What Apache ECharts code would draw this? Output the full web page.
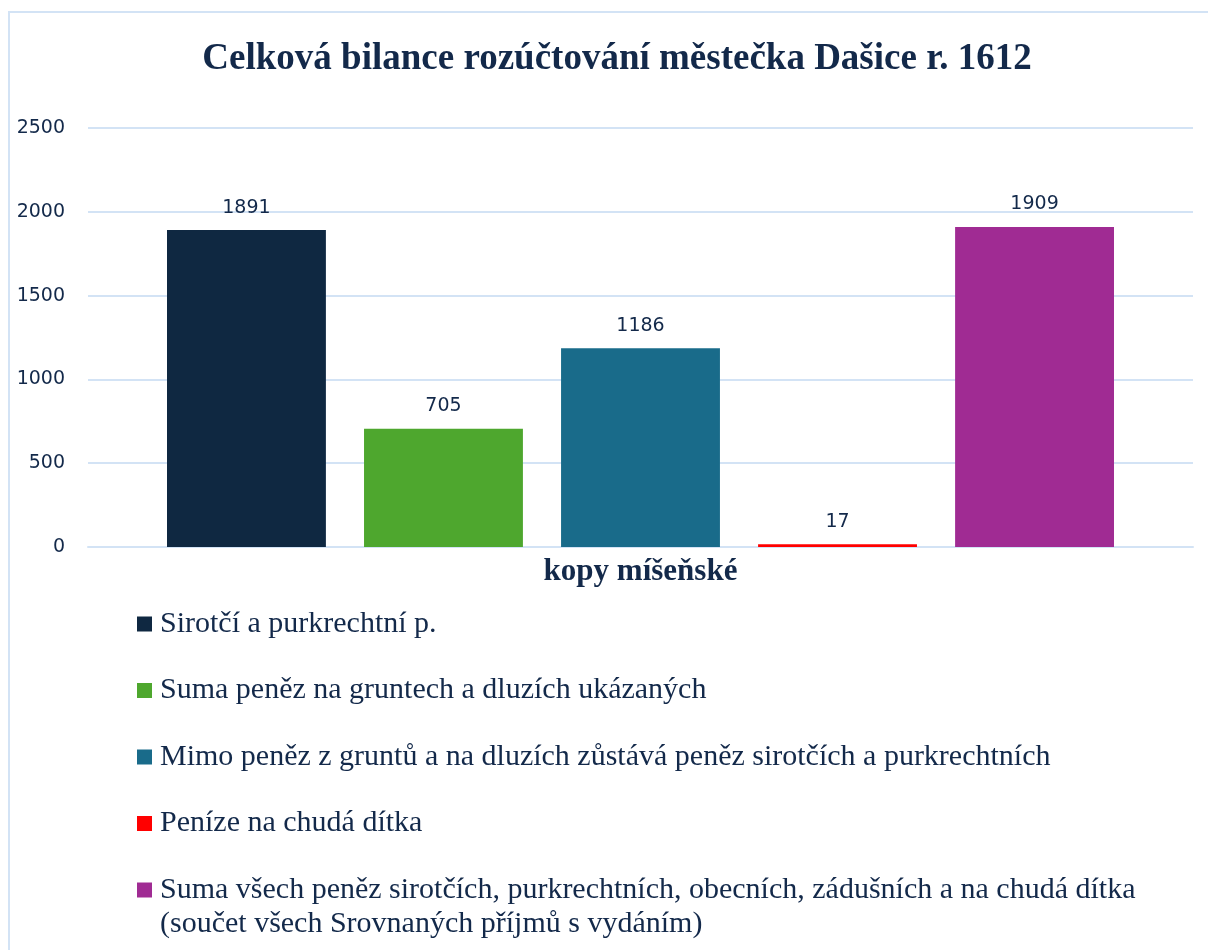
<!DOCTYPE html>
<html lang="cs">
<head>
  <meta charset="UTF-8" />
  <title>Celková bilance rozúčtování městečka Dašice r. 1612</title>
  <style>
    * { padding: 0; margin: 0; }
    html, body { width: 100%; height: 100%; background: #fff; }
    #chart { width: 1208px; height: 950px; }
  </style>
</head>
<body>
  <div id="chart"></div>
  <script src="https://cdn.jsdelivr.net/npm/echarts@6/dist/echarts.min.js"></script>
  <script>
    var categories = ['kopy míšeňské']
    var seriesNames = [
      'Sirotčí a purkrechtní p.',
      'Suma peněz na gruntech a dluzích ukázaných',
      'Mimo peněz z gruntů a na dluzích zůstává peněz sirotčích a purkrechtních',
      'Peníze na chudá dítka',
      'Suma všech peněz sirotčích, purkrechtních, obecních, zádušních a na chudá dítka (součet všech Srovnaných příjmů s vydáním)'
    ]
    var seriesValues = [1891, 705, 1186, 17, 1909]
    var colors = ['#0f2841', '#4ea72e', '#196b8a', '#ff0000', '#a02b93']
    var yTicks = [0, 500, 1000, 1500, 2000, 2500]

    var serif = '"Liberation Serif", "Times New Roman", serif'
    var sans = '"DejaVu Sans", "Liberation Sans", sans-serif'
    var ink = '#13294a'
    var wrapAt = ' (součet'

    var chart = echarts.init(document.getElementById('chart'))

    var series = seriesNames.map(function (name, i) {
      return {
        name: name,
        type: 'bar',
        data: [seriesValues[i]],
        itemStyle: { color: colors[i] },
        barGap: '24%',
        barCategoryGap: '14.3%',
        label: {
          show: true,
          position: 'top',
          distance: 13,
          color: ink,
          fontFamily: sans,
          fontSize: 19
        }
      }
    })

    // the long last entry: first line in the legend, the rest as a second line under it
    var lastName = seriesNames[seriesNames.length - 1]
    var secondLine = lastName.slice(lastName.indexOf(wrapAt) + 1)

    var option = {
      animation: false,
      title: {
        text: 'Celková bilance rozúčtování městečka Dašice r. 1612',
        left: 612,
        top: 36,
        textAlign: 'center',
        textStyle: {
          fontFamily: serif,
          fontWeight: 'bold',
          fontSize: 37,
          color: ink
        }
      },
      graphic: [{
        type: 'rect',
        shape: { x: 9, y: 12, width: 1300, height: 1000 },
        style: { fill: 'none', stroke: '#d3e3f5', lineWidth: 2 },
        silent: true
      }, {
        type: 'text',
        left: 160,
        top: 907,
        silent: true,
        style: {
          text: secondLine,
          fontFamily: serif,
          fontSize: 30,
          lineHeight: 34,
          fill: ink
        }
      }],
      legend: {
        orient: 'vertical',
        left: 137,
        top: 607,
        height: 500,
        padding: 0,
        itemWidth: 15,
        itemHeight: 15,
        itemGap: 32.5,
        icon: 'rect',
        data: seriesNames,
        formatter: function (name) {
          var k = name.indexOf(wrapAt)
          return k >= 0 ? name.slice(0, k) : name
        },
        textStyle: {
          fontFamily: serif,
          fontSize: 30,
          lineHeight: 34,
          color: ink,
          padding: [0, 0, 0, 3]
        }
      },
      grid: {
        left: 88,
        right: 15,
        top: 128,
        bottom: 403,
        containLabel: false
      },
      xAxis: {
        type: 'category',
        data: categories,
        axisLine: { show: true, lineStyle: { color: '#d3e3f5', width: 2 } },
        axisTick: { show: false },
        axisLabel: {
          margin: 9,
          fontFamily: serif,
          fontWeight: 'bold',
          fontSize: 31,
          color: ink
        }
      },
      yAxis: {
        type: 'value',
        min: yTicks[0],
        max: yTicks[yTicks.length - 1],
        interval: 500,
        axisLine: { show: false },
        axisTick: { show: false },
        splitLine: { lineStyle: { color: '#d3e3f5', width: 2 } },
        axisLabel: {
          margin: 23,
          fontFamily: sans,
          fontSize: 19,
          color: ink,
          formatter: function (v) { return String(v) }
        }
      },
      series: series
    }

    chart.setOption(option)
  </script>
</body>
</html>
